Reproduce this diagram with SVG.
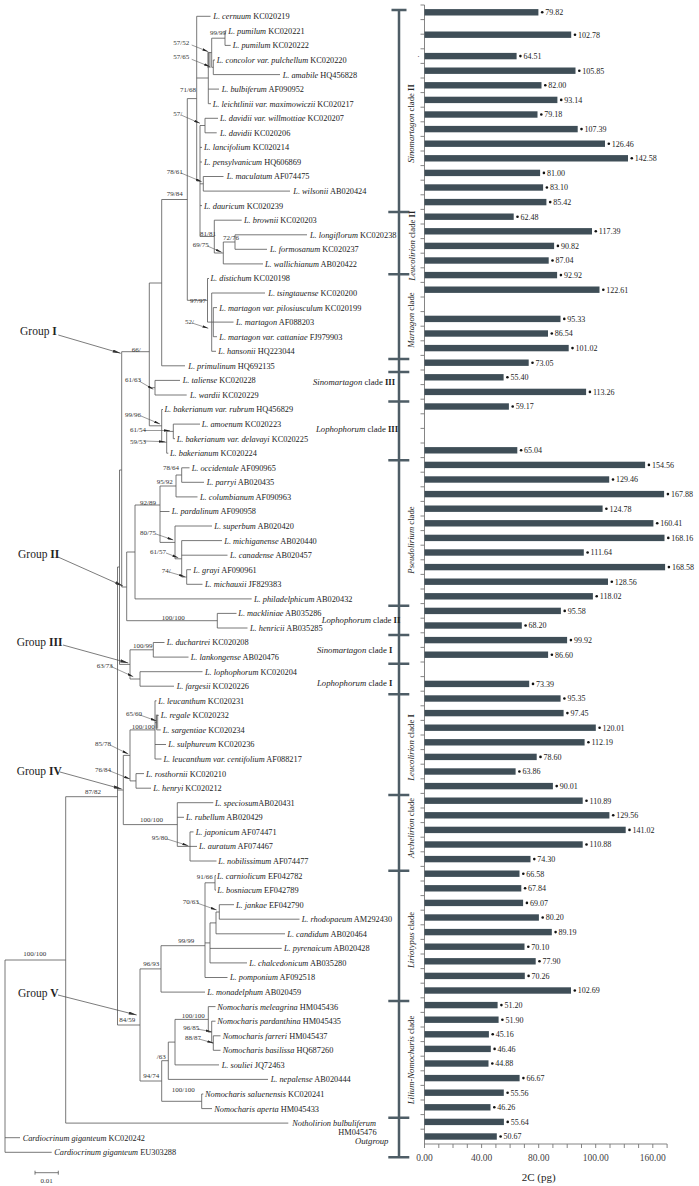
<svg xmlns="http://www.w3.org/2000/svg" width="699" height="1186" viewBox="0 0 699 1186">
<style>
text{font-family:"Liberation Serif","Times New Roman",serif;fill:#222}
.t{font-size:8.3px}
.i{font-style:italic}
.s{font-size:7px;fill:#333}
.v{font-size:8px}
.cl{font-size:8.7px}
.grp{font-size:11.5px}
.b{font-weight:bold}
.tree{fill:none;stroke:#555;stroke-width:0.8}
.arr{fill:none;stroke:#555;stroke-width:0.6;marker-end:url(#ah)}
.garr{fill:none;stroke:#444;stroke-width:0.7;marker-end:url(#gh)}
.bar{fill:#3f4e57}
.dot{fill:#111}
.ax{fill:none;stroke:#777;stroke-width:0.9}
.brk{fill:none;stroke:#4e5d66;stroke-width:2.5}
.shade{fill:#aaa}
</style>
<defs>
<marker id="ah" viewBox="0 0 10 4" refX="10" refY="2" markerWidth="6" markerHeight="2.6" markerUnits="userSpaceOnUse" orient="auto"><path d="M0,0 L10,2 L0,4 z" fill="#222"/></marker>
<marker id="gh" viewBox="0 0 10 4" refX="10" refY="2" markerWidth="11" markerHeight="3.2" markerUnits="userSpaceOnUse" orient="auto"><path d="M0,0 L10,2 L0,4 z" fill="#333"/></marker>
</defs>
<rect width="699" height="1186" fill="#fff"/>

<g id="connectors">
<rect class="shade" x="207.3" y="52" width="3.4" height="16"/>
<rect class="shade" x="155.6" y="714.5" width="2.6" height="14"/>
<path class="tree" d="M5 960V1152.3M5 960H65.7M5 1137.7H20M5 1152.3H51.7
M65.7 796.7V1123.1M65.7 1123.1H288.3M65.7 796.7H117.5
M117.5 567V1025M117.5 567H119.5M119.5 470V664.4M119.5 470H121.7
M121.7 351.7V587M121.7 351.7H149.3M121.7 587H126.7M119.5 664.4H130M117.5 790H123.3M117.5 1025H140
M149.3 283V425.8M149.3 283H161.7M149.3 387.7H155M149.3 425.8H161.7
M161.7 199.5V365.8M161.7 199.5H187.3M161.7 365.8H185
M155 380.4V395M155 380.4H180M155 395H186.7
M161.7 409.5V442.2M161.7 409.5H163M161.7 442.2H166.7
M166.7 431.4V453.2M166.7 431.4H173.3M166.7 453.2H168.3
M173.3 424.1V438.7M173.3 424.1H200M173.3 438.7H175
M187.3 98.6V300.3M187.3 98.6H196.7M187.3 300.3H207.5
M196.7 16.3V181M196.7 16.3H210.5M196.7 78H208.3M196.7 181H200
M208.3 52.6V103.7M208.3 52.6H211.7M208.3 89.1H219M208.3 103.7H211
M211.7 38.2V67.3M211.7 38.2H225M211.7 67.3H213.3
M225 30.9V45.4M225 30.9H226.5M225 45.4H230.7
M213.3 60V74.6M213.3 60H215M213.3 74.6H280
M200 125.5V236.5M200 125.5H205M205 118.3V132.8M205 118.3H218M205 132.8H216.7
M200 147.4H202M200 162H202M200 183.8H203.3M203.3 176.5V191.1M203.3 176.5H223.5M203.3 191.1H290M200 205.6H202M200 236.5H214.3
M214.3 220.2V253M214.3 220.2H241.7M214.3 253H223.3
M223.3 242V263.9M223.3 242H235M223.3 263.9H263
M235 234.8V249.3M235 234.8H307M235 249.3H267
M207.5 278.5V322.1M207.5 278.5H209M207.5 322.1H211.7
M211.7 293V351.3M211.7 293H265M211.7 351.3H216M211.7 322.1H213.3
M213.3 307.6V336.7M213.3 307.6H217M213.3 322.1H233.5M213.3 336.7H217
M126.7 552V620.7M126.7 552H135M126.7 620.7H217.3
M217.3 613.4V628M217.3 613.4H236.5M217.3 628H247.5
M135 505V598.9M135 505H160M135 598.9H251.7
M160 486V542.4M160 486H176M160 511.5H169.5M160 542.4H175
M176 475V496.9M176 475H181.7M176 496.9H197.5
M181.7 467.8V482.3M181.7 467.8H189.5M181.7 482.3H204
M175 526V558.8M175 526H212M175 558.8H181.7
M181.7 540.6V577M181.7 540.6H222M181.7 555.2H227.5M181.7 577H186.7
M186.7 569.7V584.3M186.7 569.7H191M186.7 584.3H202.5
M130 649.8V679M130 649.8H153.3M130 679H140
M153.3 642.5V657.1M153.3 642.5H164.5M153.3 657.1H188.5
M140 671.7V686.2M140 671.7H202.5M140 686.2H174
M123.3 755.4V824.6M123.3 755.4H130M123.3 824.6H177.3
M130 729.9V780.9M130 729.9H155M130 780.9H136
M155 700.8V759M155 700.8H156.5M155 722.6H156.7M155 744.5H166M155 759H161.5
M156.7 715.4V729.9M156.7 715.4H158.7M156.7 729.9H160.7
M136 773.6V788.2M136 773.6H144M136 788.2H151
M177.3 802.7V846.4M177.3 802.7H213.3M177.3 817.3H184M177.3 846.4H190
M190 831.9V861M190 831.9H193.5M190 846.4H197M190 861H216.5
M140 968.9V1081M140 968.9H161M140 1081H161.7
M161 945.7V992.1M161 945.7H205M161 992.1H205
M205 882.8V977.5M205 882.8H215M205 942.9H210M205 977.5H227.5
M215 875.6V890.1M215 875.6H216M215 890.1H216
M210 922.9V962.9M210 922.9H216M210 948.4H281.7M210 962.9H247
M216 912V933.8M216 912H219.3M216 933.8H285
M219.3 904.7V919.2M219.3 904.7H234M219.3 919.2H299.5
M161.7 1060.7V1101.3M161.7 1060.7H168.3M161.7 1101.3H201.7
M168.3 1042.1V1079.4M168.3 1042.1H175M168.3 1079.4H268
M175 1019.4V1064.9M175 1019.4H208.3M175 1064.9H219
M208.3 1006.6V1032.1M208.3 1006.6H215.5M208.3 1032.1H211.7
M211.7 1021.2V1043M211.7 1021.2H215.5M211.7 1043H213.3
M213.3 1035.8V1050.3M213.3 1035.8H220.5M213.3 1050.3H220.5
M201.7 1094V1108.6M201.7 1094H203.3M201.7 1108.6H212"/>
<path class="arr" d="M191.7 45L208.3 51.7"/>
<path class="arr" d="M191.7 59.3L210 66.7"/>
<path class="arr" d="M181 115L200 123.3"/>
<path class="arr" d="M181 173L201.7 181.7"/>
<path class="arr" d="M207.5 246L221.7 252.3"/>
<path class="arr" d="M192 323L208.3 328.3"/>
<path class="arr" d="M139 381L153.3 389.3"/>
<path class="arr" d="M141 416L160 424"/>
<path class="arr" d="M144 430.5L170 430.5"/>
<path class="arr" d="M144 441L165 441.7"/>
<path class="arr" d="M156 534L173.3 540"/>
<path class="arr" d="M166 553L178.3 557.7"/>
<path class="arr" d="M169 572L185 576.7"/>
<path class="arr" d="M110 666L133.3 676.7"/>
<path class="arr" d="M140 715L156.7 721"/>
<path class="arr" d="M110 745L128.3 754"/>
<path class="arr" d="M110 771L130 779"/>
<path class="arr" d="M167 839L188.3 845.7"/>
<path class="arr" d="M197 903L216.7 910"/>
<path class="arr" d="M197 1029L211.7 1031.7"/>
<path class="arr" d="M199 1039L213.3 1043"/>
<path class="garr" d="M58.3 335L120.7 353.3"/>
<path class="garr" d="M58 557L123 586"/>
<path class="garr" d="M63 645L128.3 663"/>
<path class="garr" d="M60 772L121.7 789"/>
<path class="garr" d="M58 995L136.7 1015"/>
</g>

<g id="support">
<text class="s" x="210" y="35.2">99/99</text>
<text class="s" x="173.3" y="45.2">57/52</text>
<text class="s" x="173.3" y="59.2">57/65</text>
<text class="s" x="180" y="91.8">71/68</text>
<text class="s" x="173.3" y="115.8">57/</text>
<text class="s" x="166.7" y="174.2">78/61</text>
<text class="s" x="166.7" y="195.8">79/84</text>
<text class="s" x="200" y="235.5">81/81</text>
<text class="s" x="223" y="240.2">72/76</text>
<text class="s" x="192.7" y="246.8">69/75</text>
<text class="s" x="190" y="302.5">97/97</text>
<text class="s" x="185" y="324.2">52/</text>
<text class="s" x="131.7" y="351.8">66/</text>
<text class="s" x="125" y="381.8">61/63</text>
<text class="s" x="125" y="416.8">99/96</text>
<text class="s" x="130" y="431.8">61/54</text>
<text class="s" x="130" y="443.5">59/53</text>
<text class="s" x="163" y="469.5">78/64</text>
<text class="s" x="156.7" y="484.2">95/92</text>
<text class="s" x="140" y="504.8">92/89</text>
<text class="s" x="140" y="534.8">80/75</text>
<text class="s" x="150" y="553.5">61/57</text>
<text class="s" x="161.7" y="572.5">74/</text>
<text class="s" x="161.7" y="619.5">100/100</text>
<text class="s" x="133" y="648.2">100/99</text>
<text class="s" x="96.7" y="667.5">63/73</text>
<text class="s" x="126" y="715.8">65/60</text>
<text class="s" x="131.7" y="728.5">100/100</text>
<text class="s" x="95" y="745.8">85/78</text>
<text class="s" x="95" y="771.5">76/84</text>
<text class="s" x="85" y="794.2">87/82</text>
<text class="s" x="140" y="821.8">100/100</text>
<text class="s" x="151.7" y="839.8">95/80</text>
<text class="s" x="196.7" y="879.2">91/66</text>
<text class="s" x="182.7" y="904.2">70/63</text>
<text class="s" x="178.3" y="942.5">99/99</text>
<text class="s" x="143.3" y="965.8">96/93</text>
<text class="s" x="23.3" y="955.8">100/100</text>
<text class="s" x="181.7" y="1018.2">100/100</text>
<text class="s" x="119.3" y="1021.5">84/59</text>
<text class="s" x="183.3" y="1030.2">96/85</text>
<text class="s" x="185" y="1040.2">88/87</text>
<text class="s" x="156.7" y="1059.2">/63</text>
<text class="s" x="143.3" y="1078.2">94/74</text>
<text class="s" x="171.7" y="1091.8">100/100</text>
</g>

<g id="groups">
<text class="grp" x="20" y="335">Group <tspan class="b">I</tspan></text>
<text class="grp" x="18" y="557.5">Group <tspan class="b">II</tspan></text>
<text class="grp" x="16.7" y="646">Group <tspan class="b">III</tspan></text>
<text class="grp" x="16.7" y="774.5">Group <tspan class="b">IV</tspan></text>
<text class="grp" x="18" y="997">Group <tspan class="b">V</tspan></text>
</g>

<g id="taxa" class="t">
<text id="n1" class="t" x="213.3" y="19.2"><tspan class="i">L. cernuum</tspan> KC020219</text>
<text id="n2" class="t" x="228.3" y="33.8"><tspan class="i">L. pumilum</tspan> KC020221</text>
<text id="n3" class="t" x="232.7" y="48.3"><tspan class="i">L. pumilum</tspan> KC020222</text>
<text id="n4" class="t" x="216.7" y="62.9"><tspan class="i">L. concolor var. pulchellum</tspan> KC020220</text>
<text id="n5" class="t" x="282.7" y="77.5"><tspan class="i">L. amabile</tspan> HQ456828</text>
<text id="n6" class="t" x="221.7" y="92"><tspan class="i">L. bulbiferum</tspan> AF090952</text>
<text id="n7" class="t" x="212.7" y="106.6"><tspan class="i">L. leichtlinii var. maximowiczii</tspan> KC020217</text>
<text id="n8" class="t" x="220" y="121.2"><tspan class="i">L. davidii var. willmottiae</tspan> KC020207</text>
<text id="n9" class="t" x="220" y="135.7"><tspan class="i">L. davidii</tspan> KC020206</text>
<text id="n10" class="t" x="204" y="150.3"><tspan class="i">L. lancifolium</tspan> KC020214</text>
<text id="n11" class="t" x="204" y="164.9"><tspan class="i">L. pensylvanicum</tspan> HQ606869</text>
<text id="n12" class="t" x="226.7" y="179.4"><tspan class="i">L. maculatum</tspan> AF074475</text>
<text id="n13" class="t" x="293.3" y="194"><tspan class="i">L. wilsonii</tspan> AB020424</text>
<text id="n14" class="t" x="204" y="208.5"><tspan class="i">L. dauricum</tspan> KC020239</text>
<text id="n15" class="t" x="244" y="223.1"><tspan class="i">L. brownii</tspan> KC020203</text>
<text id="n16" class="t" x="310" y="237.7"><tspan class="i">L. longiflorum</tspan> KC020238</text>
<text id="n17" class="t" x="270" y="252.2"><tspan class="i">L. formosanum</tspan> KC020237</text>
<text id="n18" class="t" x="265" y="266.8"><tspan class="i">L. wallichianum</tspan> AB020422</text>
<text id="n19" class="t" x="210.5" y="281.4"><tspan class="i">L. distichum</tspan> KC020198</text>
<text id="n20" class="t" x="268.3" y="295.9"><tspan class="i">L. tsingtauense</tspan> KC020200</text>
<text id="n21" class="t" x="219.3" y="310.5"><tspan class="i">L. martagon var. pilosiusculum</tspan> KC020199</text>
<text id="n22" class="t" x="236" y="325"><tspan class="i">L. martagon</tspan> AF088203</text>
<text id="n23" class="t" x="219.3" y="339.6"><tspan class="i">L. martagon var. cattaniae</tspan> FJ979903</text>
<text id="n24" class="t" x="218.3" y="354.2"><tspan class="i">L. hansonii</tspan> HQ223044</text>
<text id="n25" class="t" x="188.3" y="368.7"><tspan class="i">L. primulinum</tspan> HQ692135</text>
<text id="n26" class="t" x="182.7" y="383.3"><tspan class="i">L. taliense</tspan> KC020228</text>
<text id="n27" class="t" x="190" y="397.9"><tspan class="i">L. wardii</tspan> KC020229</text>
<text id="n28" class="t" x="164.5" y="412.4"><tspan class="i">L. bakerianum var. rubrum</tspan> HQ456829</text>
<text id="n29" class="t" x="201.7" y="427"><tspan class="i">L. amoenum</tspan> KC020223</text>
<text id="n30" class="t" x="176.7" y="441.6"><tspan class="i">L. bakerianum var. delavayi</tspan> KC020225</text>
<text id="n31" class="t" x="170" y="456.1"><tspan class="i">L. bakerianum</tspan> KC020224</text>
<text id="n32" class="t" x="191.7" y="470.7"><tspan class="i">L. occidentale</tspan> AF090965</text>
<text id="n33" class="t" x="206.7" y="485.2"><tspan class="i">L. parryi</tspan> AB020435</text>
<text id="n34" class="t" x="200" y="499.8"><tspan class="i">L. columbianum</tspan> AF090963</text>
<text id="n35" class="t" x="171.7" y="514.4"><tspan class="i">L. pardalinum</tspan> AF090958</text>
<text id="n36" class="t" x="214.3" y="528.9"><tspan class="i">L. superbum</tspan> AB020420</text>
<text id="n37" class="t" x="224.3" y="543.5"><tspan class="i">L. michiganense</tspan> AB020440</text>
<text id="n38" class="t" x="230" y="558.1"><tspan class="i">L. canadense</tspan> AB020457</text>
<text id="n39" class="t" x="193.3" y="572.6"><tspan class="i">L. grayi</tspan> AF090961</text>
<text id="n40" class="t" x="205" y="587.2"><tspan class="i">L. michauxii</tspan> JF829383</text>
<text id="n41" class="t" x="254" y="601.8"><tspan class="i">L. philadelphicum</tspan> AB020432</text>
<text id="n42" class="t" x="238.3" y="616.3"><tspan class="i">L. mackliniae</tspan> AB035286</text>
<text id="n43" class="t" x="250" y="630.9"><tspan class="i">L. henricii</tspan> AB035285</text>
<text id="n44" class="t" x="166.7" y="645.4"><tspan class="i">L. duchartrei</tspan> KC020208</text>
<text id="n45" class="t" x="190.7" y="660"><tspan class="i">L. lankongense</tspan> AB020476</text>
<text id="n46" class="t" x="205" y="674.6"><tspan class="i">L. lophophorum</tspan> KC020204</text>
<text id="n47" class="t" x="176.7" y="689.1"><tspan class="i">L. fargesii</tspan> KC020226</text>
<text id="n48" class="t" x="158.3" y="703.7"><tspan class="i">L. leucanthum</tspan> KC020231</text>
<text id="n49" class="t" x="160.7" y="718.3"><tspan class="i">L. regale</tspan> KC020232</text>
<text id="n50" class="t" x="162.7" y="732.8"><tspan class="i">L. sargentiae</tspan> KC020234</text>
<text id="n51" class="t" x="168.3" y="747.4"><tspan class="i">L. sulphureum</tspan> KC020236</text>
<text id="n52" class="t" x="163.5" y="761.9"><tspan class="i">L. leucanthum var. centifolium</tspan> AF088217</text>
<text id="n53" class="t" x="146" y="776.5"><tspan class="i">L. rosthornii</tspan> KC020210</text>
<text id="n54" class="t" x="153.3" y="791.1"><tspan class="i">L. henryi</tspan> KC020212</text>
<text id="n55" class="t" x="215" y="805.6"><tspan class="i">L. speciosum</tspan>AB020431</text>
<text id="n56" class="t" x="186" y="820.2"><tspan class="i">L. rubellum</tspan> AB020429</text>
<text id="n57" class="t" x="195.7" y="834.8"><tspan class="i">L. japonicum</tspan> AF074471</text>
<text id="n58" class="t" x="199" y="849.3"><tspan class="i">L. auratum</tspan> AF074467</text>
<text id="n59" class="t" x="218.3" y="863.9"><tspan class="i">L. nobilissimum</tspan> AF074477</text>
<text id="n60" class="t" x="217" y="878.5"><tspan class="i">L. carniolicum</tspan> EF042782</text>
<text id="n61" class="t" x="217.3" y="893"><tspan class="i">L. bosniacum</tspan> EF042789</text>
<text id="n62" class="t" x="236" y="907.6"><tspan class="i">L. jankae</tspan> EF042790</text>
<text id="n63" class="t" x="301.7" y="922.1"><tspan class="i">L. rhodopaeum</tspan> AM292430</text>
<text id="n64" class="t" x="287.3" y="936.7"><tspan class="i">L. candidum</tspan> AB020464</text>
<text id="n65" class="t" x="284" y="951.3"><tspan class="i">L. pyrenaicum</tspan> AB020428</text>
<text id="n66" class="t" x="249.3" y="965.8"><tspan class="i">L. chalcedonicum</tspan> AB035280</text>
<text id="n67" class="t" x="230" y="980.4"><tspan class="i">L. pomponium</tspan> AF092518</text>
<text id="n68" class="t" x="207.3" y="995"><tspan class="i">L. monadelphum</tspan> AB020459</text>
<text id="n69" class="t" x="217.3" y="1009.5"><tspan class="i">Nomocharis meleagrina</tspan> HM045436</text>
<text id="n70" class="t" x="217.3" y="1024.1"><tspan class="i">Nomocharis pardanthina</tspan> HM045435</text>
<text id="n71" class="t" x="222.7" y="1038.7"><tspan class="i">Nomocharis farreri</tspan> HM045437</text>
<text id="n72" class="t" x="222.7" y="1053.2"><tspan class="i">Nomocharis basilissa</tspan> HQ687260</text>
<text id="n73" class="t" x="221.7" y="1067.8"><tspan class="i">L. souliei</tspan> JQ72463</text>
<text id="n74" class="t" x="270.7" y="1082.3"><tspan class="i">L. nepalense</tspan> AB020444</text>
<text id="n75" class="t" x="205" y="1096.9"><tspan class="i">Nomocharis saluenensis</tspan> KC020241</text>
<text id="n76" class="t" x="214.3" y="1111.5"><tspan class="i">Nomocharis aperta</tspan> HM045433</text>
<text id="n77" class="t" x="292.3" y="1126"><tspan class="i">Notholirion bulbuliferum</tspan></text>
<text id="n77b" class="t" x="338.3" y="1134.6">HM045476</text>
<text id="n78" class="t" x="22.7" y="1140.6"><tspan class="i">Cardiocrinum giganteum</tspan> KC020242</text>
<text id="n79" class="t" x="54.3" y="1155.2"><tspan class="i">Cardiocrinum giganteum</tspan> EU303288</text>
</g>

<g id="scale">
<path class="tree" d="M35 1172.7H58.3M35 1170.7V1174.7M58.3 1170.7V1174.7"/>
<text class="s" x="46.7" y="1183" text-anchor="middle">0.01</text>
</g>

<g id="clades">
<path class="brk" d="M399 10V1157.3M391.5 10H406.5M388.3 212H409.3M388.3 274.3H409.3M388.3 359H409.3M388.3 372H409.3M388.3 401.5H409.3M388.3 460.3H409.3M388.3 605.7H409.3M388.3 635H409.3M388.3 663.7H409.3M388.3 694.3H409.3M388.3 795H409.3M388.3 870.7H409.3M388.3 1001H409.3M388.3 1117.7H409.3M388.3 1157.3H409.3"/>
<text class="cl" transform="translate(413.5 123.5) rotate(-90)" text-anchor="middle"><tspan class="i">Sinomartagon</tspan> clade <tspan class="b">II</tspan></text>
<text class="cl" transform="translate(414.5 245.7) rotate(-90)" text-anchor="middle"><tspan class="i">Leucolirion</tspan> clade <tspan class="b">II</tspan></text>
<text class="cl" transform="translate(413.5 320) rotate(-90)" text-anchor="middle"><tspan class="i">Martagon</tspan> clade</text>
<text class="cl" transform="translate(413.5 540) rotate(-90)" text-anchor="middle"><tspan class="i">Pseudolirium</tspan> clade</text>
<text class="cl" transform="translate(413.5 747.5) rotate(-90)" text-anchor="middle"><tspan class="i">Leucolirion</tspan> clade <tspan class="b">I</tspan></text>
<text class="cl" transform="translate(413.5 828) rotate(-90)" text-anchor="middle"><tspan class="i">Archelirion</tspan> clade</text>
<text class="cl" transform="translate(413.5 940) rotate(-90)" text-anchor="middle"><tspan class="i">Liriotypus</tspan> clade</text>
<text class="cl" transform="translate(413.5 1060) rotate(-90)" text-anchor="middle"><tspan class="i">Lilium-Nomocharis</tspan> clade</text>
<text class="cl" x="313" y="385"><tspan class="i">Sinomartagon</tspan> clade <tspan class="b">III</tspan></text>
<text class="cl" x="316" y="431.7"><tspan class="i">Lophophorum</tspan> clade <tspan class="b">III</tspan></text>
<text class="cl" x="321.7" y="623"><tspan class="i">Lophophorum</tspan> clade <tspan class="b">II</tspan></text>
<text class="cl" x="317" y="653"><tspan class="i">Sinomartagon</tspan> clade <tspan class="b">I</tspan></text>
<text class="cl" x="317" y="685.7"><tspan class="i">Lophophorum</tspan> clade <tspan class="b">I</tspan></text>
<text class="cl i" x="355" y="1144">Outgroup</text>
</g>

<g id="axes">
<path class="ax" d="M424.5 5V1144H667.1"/>
<path class="ax" d="M420.5 5H424.5M420.5 19.6H424.5M420.5 34.2H424.5M420.5 48.8H424.5M420.5 63.4H424.5M420.5 78H424.5M420.5 92.6H424.5M420.5 107.2H424.5M420.5 121.8H424.5M420.5 136.4H424.5M420.5 151H424.5M420.5 165.6H424.5M420.5 180.2H424.5M420.5 194.8H424.5M420.5 209.4H424.5M420.5 224H424.5M420.5 238.6H424.5M420.5 253.2H424.5M420.5 267.8H424.5M420.5 282.4H424.5M420.5 297H424.5M420.5 311.6H424.5M420.5 326.2H424.5M420.5 340.8H424.5M420.5 355.4H424.5M420.5 370H424.5M420.5 384.6H424.5M420.5 399.2H424.5M420.5 413.8H424.5M420.5 428.4H424.5M420.5 443H424.5M420.5 457.6H424.5M420.5 472.2H424.5M420.5 486.8H424.5M420.5 501.4H424.5M420.5 516H424.5M420.5 530.6H424.5M420.5 545.2H424.5M420.5 559.8H424.5M420.5 574.4H424.5M420.5 589H424.5M420.5 603.6H424.5M420.5 618.2H424.5M420.5 632.8H424.5M420.5 647.4H424.5M420.5 662H424.5M420.5 676.6H424.5M420.5 691.2H424.5M420.5 705.8H424.5M420.5 720.4H424.5M420.5 735H424.5M420.5 749.6H424.5M420.5 764.2H424.5M420.5 778.8H424.5M420.5 793.4H424.5M420.5 808H424.5M420.5 822.6H424.5M420.5 837.2H424.5M420.5 851.8H424.5M420.5 866.4H424.5M420.5 881H424.5M420.5 895.6H424.5M420.5 910.2H424.5M420.5 924.8H424.5M420.5 939.4H424.5M420.5 954H424.5M420.5 968.6H424.5M420.5 983.2H424.5M420.5 997.8H424.5M420.5 1012.4H424.5M420.5 1027H424.5M420.5 1041.6H424.5M420.5 1056.2H424.5M420.5 1070.8H424.5M420.5 1085.4H424.5M420.5 1100H424.5M420.5 1114.6H424.5M420.5 1129.2H424.5"/>
<path class="ax" d="M424.5 1144V1148M438.8 1144V1148M453 1144V1148M467.3 1144V1148M481.6 1144V1148M495.9 1144V1148M510.1 1144V1148M524.4 1144V1148M538.7 1144V1148M552.9 1144V1148M567.2 1144V1148M581.5 1144V1148M595.7 1144V1148M610 1144V1148M624.3 1144V1148M638.6 1144V1148M652.8 1144V1148M667.1 1144V1148"/>
<g font-size="9.5" text-anchor="middle" fill="#444">
<text x="424.5" y="1161" style="fill:#444">0.00</text>
<text x="481.6" y="1161" style="fill:#444">40.00</text>
<text x="538.7" y="1161" style="fill:#444">80.00</text>
<text x="595.7" y="1161" style="fill:#444">100.00</text>
<text x="652.8" y="1161" style="fill:#444">160.00</text>
</g>
<text x="538.7" y="1181" font-size="11" text-anchor="middle">2C (pg)</text>
<text class="v" x="417.5" y="57">.</text>
</g>

<g id="bars">
<rect class="bar" x="424.5" y="9.1" width="113.9" height="6.4"/><circle class="dot" cx="542.2" cy="12.3" r="1.3"/><text class="v" x="545.2" y="15.1">79.82</text>
<rect class="bar" x="424.5" y="31.5" width="146.7" height="6.4"/><circle class="dot" cx="575" cy="34.7" r="1.3"/><text class="v" x="578" y="37.5">102.78</text>
<rect class="bar" x="424.5" y="52.9" width="92.1" height="6.4"/><circle class="dot" cx="520.4" cy="56.1" r="1.3"/><text class="v" x="523.4" y="58.9">64.51</text>
<rect class="bar" x="424.5" y="67.5" width="151" height="6.4"/><circle class="dot" cx="579.3" cy="70.7" r="1.3"/><text class="v" x="582.3" y="73.5">105.85</text>
<rect class="bar" x="424.5" y="82.1" width="117" height="6.4"/><circle class="dot" cx="545.3" cy="85.3" r="1.3"/><text class="v" x="548.3" y="88.1">82.00</text>
<rect class="bar" x="424.5" y="96.7" width="132.9" height="6.4"/><circle class="dot" cx="561.2" cy="99.9" r="1.3"/><text class="v" x="564.2" y="102.7">93.14</text>
<rect class="bar" x="424.5" y="111.3" width="113" height="6.4"/><circle class="dot" cx="541.3" cy="114.5" r="1.3"/><text class="v" x="544.3" y="117.3">79.18</text>
<rect class="bar" x="424.5" y="125.9" width="153.2" height="6.4"/><circle class="dot" cx="581.5" cy="129.1" r="1.3"/><text class="v" x="584.5" y="131.9">107.39</text>
<rect class="bar" x="424.5" y="140.5" width="180.5" height="6.4"/><circle class="dot" cx="608.8" cy="143.7" r="1.3"/><text class="v" x="611.8" y="146.5">126.46</text>
<rect class="bar" x="424.5" y="155.1" width="203.5" height="6.4"/><circle class="dot" cx="631.8" cy="158.3" r="1.3"/><text class="v" x="634.8" y="161.1">142.58</text>
<rect class="bar" x="424.5" y="169.7" width="115.6" height="6.4"/><circle class="dot" cx="543.9" cy="172.9" r="1.3"/><text class="v" x="546.9" y="175.7">81.00</text>
<rect class="bar" x="424.5" y="184.3" width="118.6" height="6.4"/><circle class="dot" cx="546.9" cy="187.5" r="1.3"/><text class="v" x="549.9" y="190.3">83.10</text>
<rect class="bar" x="424.5" y="198.9" width="121.9" height="6.4"/><circle class="dot" cx="550.2" cy="202.1" r="1.3"/><text class="v" x="553.2" y="204.9">85.42</text>
<rect class="bar" x="424.5" y="213.5" width="89.2" height="6.4"/><circle class="dot" cx="517.5" cy="216.7" r="1.3"/><text class="v" x="520.5" y="219.5">62.48</text>
<rect class="bar" x="424.5" y="228.1" width="167.5" height="6.4"/><circle class="dot" cx="595.8" cy="231.3" r="1.3"/><text class="v" x="598.8" y="234.1">117.39</text>
<rect class="bar" x="424.5" y="242.7" width="129.6" height="6.4"/><circle class="dot" cx="557.9" cy="245.9" r="1.3"/><text class="v" x="560.9" y="248.7">90.82</text>
<rect class="bar" x="424.5" y="257.3" width="124.2" height="6.4"/><circle class="dot" cx="552.5" cy="260.5" r="1.3"/><text class="v" x="555.5" y="263.3">87.04</text>
<rect class="bar" x="424.5" y="271.9" width="132.6" height="6.4"/><circle class="dot" cx="560.9" cy="275.1" r="1.3"/><text class="v" x="563.9" y="277.9">92.92</text>
<rect class="bar" x="424.5" y="286.5" width="175" height="6.4"/><circle class="dot" cx="603.3" cy="289.7" r="1.3"/><text class="v" x="606.3" y="292.5">122.61</text>
<rect class="bar" x="424.5" y="315.7" width="136" height="6.4"/><circle class="dot" cx="564.3" cy="318.9" r="1.3"/><text class="v" x="567.3" y="321.7">95.33</text>
<rect class="bar" x="424.5" y="330.3" width="123.5" height="6.4"/><circle class="dot" cx="551.8" cy="333.5" r="1.3"/><text class="v" x="554.8" y="336.3">86.54</text>
<rect class="bar" x="424.5" y="344.9" width="144.2" height="6.4"/><circle class="dot" cx="572.5" cy="348.1" r="1.3"/><text class="v" x="575.5" y="350.9">101.02</text>
<rect class="bar" x="424.5" y="359.5" width="104.2" height="6.4"/><circle class="dot" cx="532.5" cy="362.7" r="1.3"/><text class="v" x="535.5" y="365.5">73.05</text>
<rect class="bar" x="424.5" y="374.1" width="79.1" height="6.4"/><circle class="dot" cx="507.4" cy="377.3" r="1.3"/><text class="v" x="510.4" y="380.1">55.40</text>
<rect class="bar" x="424.5" y="388.7" width="161.6" height="6.4"/><circle class="dot" cx="589.9" cy="391.9" r="1.3"/><text class="v" x="592.9" y="394.7">113.26</text>
<rect class="bar" x="424.5" y="403.3" width="84.4" height="6.4"/><circle class="dot" cx="512.7" cy="406.5" r="1.3"/><text class="v" x="515.7" y="409.3">59.17</text>
<rect class="bar" x="424.5" y="447.1" width="92.8" height="6.4"/><circle class="dot" cx="521.1" cy="450.3" r="1.3"/><text class="v" x="524.1" y="453.1">65.04</text>
<rect class="bar" x="424.5" y="461.7" width="220.6" height="6.4"/><circle class="dot" cx="648.9" cy="464.9" r="1.3"/><text class="v" x="651.9" y="467.7">154.56</text>
<rect class="bar" x="424.5" y="476.3" width="184.7" height="6.4"/><circle class="dot" cx="613" cy="479.5" r="1.3"/><text class="v" x="616" y="482.3">129.46</text>
<rect class="bar" x="424.5" y="490.9" width="239.6" height="6.4"/><circle class="dot" cx="667.9" cy="494.1" r="1.3"/><text class="v" x="670.9" y="496.9">167.88</text>
<rect class="bar" x="424.5" y="505.5" width="178.1" height="6.4"/><circle class="dot" cx="606.4" cy="508.7" r="1.3"/><text class="v" x="609.4" y="511.5">124.78</text>
<rect class="bar" x="424.5" y="520.1" width="228.9" height="6.4"/><circle class="dot" cx="657.2" cy="523.3" r="1.3"/><text class="v" x="660.2" y="526.1">160.41</text>
<rect class="bar" x="424.5" y="534.7" width="240" height="6.4"/><circle class="dot" cx="668.3" cy="537.9" r="1.3"/><text class="v" x="671.3" y="540.7">168.16</text>
<rect class="bar" x="424.5" y="549.3" width="159.3" height="6.4"/><circle class="dot" cx="587.6" cy="552.5" r="1.3"/><text class="v" x="590.6" y="555.3">111.64</text>
<rect class="bar" x="424.5" y="563.9" width="240.6" height="6.4"/><circle class="dot" cx="668.9" cy="567.1" r="1.3"/><text class="v" x="671.9" y="569.9">168.58</text>
<rect class="bar" x="424.5" y="578.5" width="183.5" height="6.4"/><circle class="dot" cx="611.8" cy="581.7" r="1.3"/><text class="v" x="614.8" y="584.5">128.56</text>
<rect class="bar" x="424.5" y="593.1" width="168.4" height="6.4"/><circle class="dot" cx="596.7" cy="596.3" r="1.3"/><text class="v" x="599.7" y="599.1">118.02</text>
<rect class="bar" x="424.5" y="607.7" width="136.4" height="6.4"/><circle class="dot" cx="564.7" cy="610.9" r="1.3"/><text class="v" x="567.7" y="613.7">95.58</text>
<rect class="bar" x="424.5" y="622.3" width="97.3" height="6.4"/><circle class="dot" cx="525.6" cy="625.5" r="1.3"/><text class="v" x="528.6" y="628.3">68.20</text>
<rect class="bar" x="424.5" y="636.9" width="142.6" height="6.4"/><circle class="dot" cx="570.9" cy="640.1" r="1.3"/><text class="v" x="573.9" y="642.9">99.92</text>
<rect class="bar" x="424.5" y="651.5" width="123.6" height="6.4"/><circle class="dot" cx="551.9" cy="654.7" r="1.3"/><text class="v" x="554.9" y="657.5">86.60</text>
<rect class="bar" x="424.5" y="680.7" width="104.7" height="6.4"/><circle class="dot" cx="533" cy="683.9" r="1.3"/><text class="v" x="536" y="686.7">73.39</text>
<rect class="bar" x="424.5" y="695.3" width="136.1" height="6.4"/><circle class="dot" cx="564.4" cy="698.5" r="1.3"/><text class="v" x="567.4" y="701.3">95.35</text>
<rect class="bar" x="424.5" y="709.9" width="139.1" height="6.4"/><circle class="dot" cx="567.4" cy="713.1" r="1.3"/><text class="v" x="570.4" y="715.9">97.45</text>
<rect class="bar" x="424.5" y="724.5" width="171.3" height="6.4"/><circle class="dot" cx="599.6" cy="727.7" r="1.3"/><text class="v" x="602.6" y="730.5">120.01</text>
<rect class="bar" x="424.5" y="739.1" width="160.1" height="6.4"/><circle class="dot" cx="588.4" cy="742.3" r="1.3"/><text class="v" x="591.4" y="745.1">112.19</text>
<rect class="bar" x="424.5" y="753.7" width="112.2" height="6.4"/><circle class="dot" cx="540.5" cy="756.9" r="1.3"/><text class="v" x="543.5" y="759.7">78.60</text>
<rect class="bar" x="424.5" y="768.3" width="91.1" height="6.4"/><circle class="dot" cx="519.4" cy="771.5" r="1.3"/><text class="v" x="522.4" y="774.3">63.86</text>
<rect class="bar" x="424.5" y="782.9" width="128.4" height="6.4"/><circle class="dot" cx="556.7" cy="786.1" r="1.3"/><text class="v" x="559.7" y="788.9">90.01</text>
<rect class="bar" x="424.5" y="797.5" width="158.2" height="6.4"/><circle class="dot" cx="586.5" cy="800.7" r="1.3"/><text class="v" x="589.5" y="803.5">110.89</text>
<rect class="bar" x="424.5" y="812.1" width="184.9" height="6.4"/><circle class="dot" cx="613.2" cy="815.3" r="1.3"/><text class="v" x="616.2" y="818.1">129.56</text>
<rect class="bar" x="424.5" y="826.7" width="201.2" height="6.4"/><circle class="dot" cx="629.5" cy="829.9" r="1.3"/><text class="v" x="632.5" y="832.7">141.02</text>
<rect class="bar" x="424.5" y="841.3" width="158.2" height="6.4"/><circle class="dot" cx="586.5" cy="844.5" r="1.3"/><text class="v" x="589.5" y="847.3">110.88</text>
<rect class="bar" x="424.5" y="855.9" width="106" height="6.4"/><circle class="dot" cx="534.3" cy="859.1" r="1.3"/><text class="v" x="537.3" y="861.9">74.30</text>
<rect class="bar" x="424.5" y="870.5" width="95" height="6.4"/><circle class="dot" cx="523.3" cy="873.7" r="1.3"/><text class="v" x="526.3" y="876.5">66.58</text>
<rect class="bar" x="424.5" y="885.1" width="96.8" height="6.4"/><circle class="dot" cx="525.1" cy="888.3" r="1.3"/><text class="v" x="528.1" y="891.1">67.84</text>
<rect class="bar" x="424.5" y="899.7" width="98.6" height="6.4"/><circle class="dot" cx="526.9" cy="902.9" r="1.3"/><text class="v" x="529.9" y="905.7">69.07</text>
<rect class="bar" x="424.5" y="914.3" width="114.4" height="6.4"/><circle class="dot" cx="542.7" cy="917.5" r="1.3"/><text class="v" x="545.7" y="920.3">80.20</text>
<rect class="bar" x="424.5" y="928.9" width="127.3" height="6.4"/><circle class="dot" cx="555.6" cy="932.1" r="1.3"/><text class="v" x="558.6" y="934.9">89.19</text>
<rect class="bar" x="424.5" y="943.5" width="100" height="6.4"/><circle class="dot" cx="528.3" cy="946.7" r="1.3"/><text class="v" x="531.3" y="949.5">70.10</text>
<rect class="bar" x="424.5" y="958.1" width="111.2" height="6.4"/><circle class="dot" cx="539.5" cy="961.3" r="1.3"/><text class="v" x="542.5" y="964.1">77.90</text>
<rect class="bar" x="424.5" y="972.7" width="100.3" height="6.4"/><circle class="dot" cx="528.6" cy="975.9" r="1.3"/><text class="v" x="531.6" y="978.7">70.26</text>
<rect class="bar" x="424.5" y="987.3" width="146.5" height="6.4"/><circle class="dot" cx="574.8" cy="990.5" r="1.3"/><text class="v" x="577.8" y="993.3">102.69</text>
<rect class="bar" x="424.5" y="1001.9" width="73.1" height="6.4"/><circle class="dot" cx="501.4" cy="1005.1" r="1.3"/><text class="v" x="504.4" y="1007.9">51.20</text>
<rect class="bar" x="424.5" y="1016.5" width="74.1" height="6.4"/><circle class="dot" cx="502.4" cy="1019.7" r="1.3"/><text class="v" x="505.4" y="1022.5">51.90</text>
<rect class="bar" x="424.5" y="1031.1" width="64.4" height="6.4"/><circle class="dot" cx="492.7" cy="1034.3" r="1.3"/><text class="v" x="495.7" y="1037.1">45.16</text>
<rect class="bar" x="424.5" y="1045.7" width="66.3" height="6.4"/><circle class="dot" cx="494.6" cy="1048.9" r="1.3"/><text class="v" x="497.6" y="1051.7">46.46</text>
<rect class="bar" x="424.5" y="1060.3" width="64" height="6.4"/><circle class="dot" cx="492.3" cy="1063.5" r="1.3"/><text class="v" x="495.3" y="1066.3">44.88</text>
<rect class="bar" x="424.5" y="1074.9" width="95.1" height="6.4"/><circle class="dot" cx="523.4" cy="1078.1" r="1.3"/><text class="v" x="526.4" y="1080.9">66.67</text>
<rect class="bar" x="424.5" y="1089.5" width="79.3" height="6.4"/><circle class="dot" cx="507.6" cy="1092.7" r="1.3"/><text class="v" x="510.6" y="1095.5">55.56</text>
<rect class="bar" x="424.5" y="1104.1" width="66" height="6.4"/><circle class="dot" cx="494.3" cy="1107.3" r="1.3"/><text class="v" x="497.3" y="1110.1">46.26</text>
<rect class="bar" x="424.5" y="1118.7" width="79.4" height="6.4"/><circle class="dot" cx="507.7" cy="1121.9" r="1.3"/><text class="v" x="510.7" y="1124.7">55.64</text>
<rect class="bar" x="424.5" y="1133.3" width="72.3" height="6.4"/><circle class="dot" cx="500.6" cy="1136.5" r="1.3"/><text class="v" x="503.6" y="1139.3">50.67</text>
</g>
</svg>
